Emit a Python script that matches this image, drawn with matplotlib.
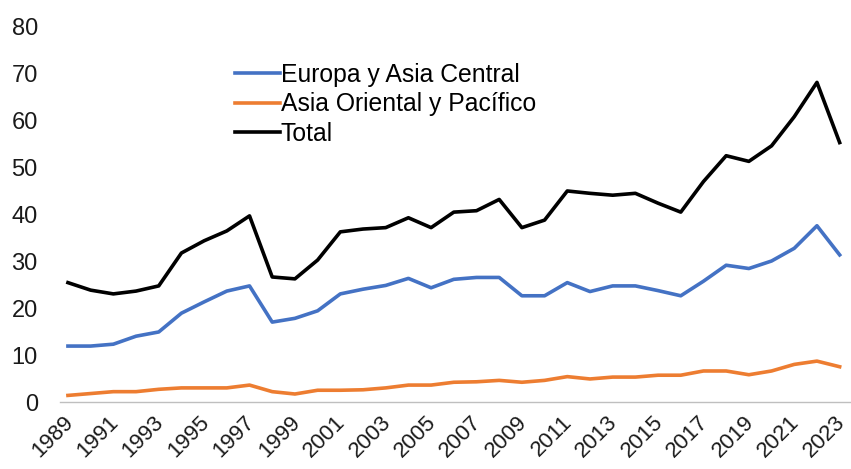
import matplotlib
matplotlib.use("Agg")
import matplotlib.pyplot as plt
import matplotlib.transforms as mtransforms

plt.rcParams['font.family'] = ['Liberation Sans', 'DejaVu Sans']

years = list(range(1989, 2024))
europa = [11.9, 11.9, 12.3, 14.0, 14.9, 18.9, 21.3, 23.6, 24.7, 17.0,
          17.8, 19.4, 23.0, 24.0, 24.8, 26.3, 24.3, 26.1, 26.5, 26.5,
          22.6, 22.6, 25.4, 23.5, 24.7, 24.7, 23.7, 22.6, 25.7, 29.1,
          28.4, 30.0, 32.7, 37.5, 31.3]
asia = [1.4, 1.8, 2.2, 2.2, 2.7, 3.0, 3.0, 3.0, 3.6, 2.2,
        1.7, 2.5, 2.5, 2.6, 3.0, 3.6, 3.6, 4.2, 4.3, 4.6,
        4.2, 4.6, 5.4, 4.9, 5.3, 5.3, 5.7, 5.7, 6.6, 6.6,
        5.8, 6.6, 8.0, 8.7, 7.5]
total = [25.4, 23.8, 23.0, 23.6, 24.7, 31.7, 34.3, 36.4, 39.6, 26.6,
         26.2, 30.2, 36.2, 36.8, 37.1, 39.2, 37.1, 40.4, 40.7, 43.1,
         37.1, 38.7, 44.9, 44.4, 44.0, 44.4, 42.3, 40.4, 46.9, 52.4,
         51.2, 54.5, 60.7, 68.0, 55.2]
labels = ["Europa y Asia Central", "Asia Oriental y Pacífico", "Total"]
yticks = [0, 10, 20, 30, 40, 50, 60, 70, 80]
xticks = list(range(1989, 2024, 2))

FS = 17
W, H = 851, 469
fig = plt.figure(figsize=(W / 100, H / 100), dpi=100)
ax = fig.add_axes([60 / W, 67 / H, (W - 60) / W, (443 - 67) / H])

ax.plot(years, europa, color='#4472C4', lw=2.6, label=labels[0])
ax.plot(years, asia, color='#ED7D31', lw=2.6, label=labels[1])
ax.plot(years, total, color='black', lw=2.6, label=labels[2])

ax.set_xlim(1988.65, 2023.5)
ax.set_ylim(0, 80)
ax.set_yticks(yticks)
ax.set_xticks(xticks)
ax.set_xticklabels([str(x) for x in xticks], rotation=45, ha='right',
                   rotation_mode='anchor')
ax.tick_params(axis='y', length=0, labelsize=FS, colors='#1a1a1a', pad=16)
ax.tick_params(axis='x', length=0, labelsize=16, colors='#1a1a1a', pad=7)
offset = mtransforms.ScaledTranslation(-4 / 72, 0, fig.dpi_scale_trans)
for lab in ax.get_xticklabels():
    lab.set_transform(lab.get_transform() + offset)

for s in ['top', 'right', 'left']:
    ax.spines[s].set_visible(False)
ax.spines['bottom'].set_color('#BFBFBF')
ax.spines['bottom'].set_linewidth(1.0)

fig.legend(loc='upper left', bbox_to_anchor=(235 / W, 1 - 63 / H),
           frameon=False, fontsize=17.8, handlelength=1.8, handletextpad=0.05,
           labelspacing=0.22, borderpad=0, borderaxespad=0)

fig.savefig('out.png', dpi=100)
